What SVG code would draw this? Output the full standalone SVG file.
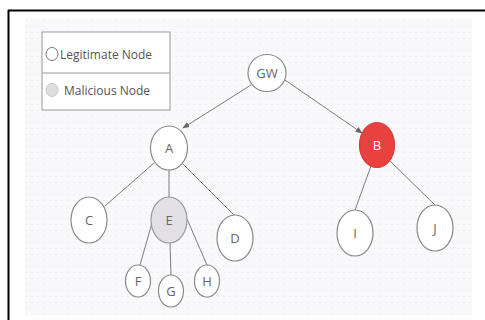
<svg xmlns="http://www.w3.org/2000/svg" width="485" height="320" viewBox="0 0 485 320">
  <defs>
    <pattern id="dots" width="6" height="6" patternUnits="userSpaceOnUse">
      <rect width="6" height="6" fill="#f9f9fc"/>
      <rect x="1" y="2" width="2" height="1" fill="#eeeef4"/>
    </pattern>
    <marker id="arrow" viewBox="0 0 10 10" refX="9" refY="5" markerWidth="7" markerHeight="7" orient="auto" markerUnits="userSpaceOnUse">
      <path d="M0,1 L10,5 L0,9 z" fill="#666"/>
    </marker>
  </defs>
  <style>
    .node { fill: #ffffff; stroke: #8a8a8a; stroke-width: 1.2; }
    .bad { fill: #e8413f; stroke: #d63a38; stroke-width: 1.2; }
    .sus { fill: #e2e0e4; stroke: #9a9a9a; stroke-width: 1.2; }
    .lbl { font-family: "Open Sans", "Liberation Sans", sans-serif; font-size: 13px; fill: #666; text-anchor: middle; dominant-baseline: central; }
    .lblw { fill: #ffffff; }
    .edge { stroke: #7d7d7d; stroke-width: 1; fill: none; }
    .leg { font-family: "Open Sans", "Liberation Sans", sans-serif; font-size: 12px; fill: #555; dominant-baseline: central; }
  </style>

  <rect width="485" height="320" fill="#ffffff"/>
  <!-- frame edges -->
  <line x1="8" y1="10.5" x2="485" y2="10.5" stroke="#000" stroke-width="2"/>
  <line x1="8.5" y1="10" x2="8.5" y2="320" stroke="#000" stroke-width="2"/>
  <!-- dotted canvas -->
  <rect x="25" y="18" width="447" height="297" fill="url(#dots)"/>

  <!-- legend -->
  <g id="legend">
    <rect x="42" y="32" width="128" height="78" fill="#ffffff" stroke="#999" stroke-width="1"/>
    <line x1="42" y1="73" x2="170" y2="73" stroke="#999" stroke-width="1"/>
    <ellipse cx="52" cy="54" rx="6" ry="6.5" fill="#ffffff" stroke="#777" stroke-width="1"/>
    <text class="leg" x="60" y="54">Legitimate Node</text>
    <ellipse cx="52" cy="90" rx="6" ry="6.5" fill="#dedde0" stroke="#c8c8c8" stroke-width="1"/>
    <text class="leg" x="64" y="90">Malicious Node</text>
  </g>

  <!-- connectors -->
  <g id="edges">
    <line class="edge" x1="251" y1="85" x2="183" y2="128" marker-end="url(#arrow)"/>
    <line class="edge" x1="285" y1="80" x2="362" y2="133" marker-end="url(#arrow)"/>
    <line class="edge" x1="154" y1="163" x2="105" y2="206"/>
    <line class="edge" x1="169" y1="170" x2="169" y2="197"/>
    <line class="edge" x1="182" y1="163" x2="234" y2="215"/>
    <line class="edge" x1="152" y1="223" x2="140" y2="265"/>
    <line class="edge" x1="170" y1="243" x2="171" y2="275"/>
    <line class="edge" x1="187" y1="219" x2="207" y2="265"/>
    <line class="edge" x1="371" y1="166" x2="355" y2="210"/>
    <line class="edge" x1="390" y1="161" x2="435" y2="205"/>
  </g>

  <!-- nodes -->
  <g id="GW"><ellipse class="node" cx="267" cy="73" rx="19" ry="18.5"/><text class="lbl" x="267" y="73">GW</text></g>
  <g id="A"><ellipse class="node" cx="169" cy="148" rx="18.5" ry="22"/><text class="lbl" x="169" y="148">A</text></g>
  <g id="B"><ellipse class="bad" cx="377" cy="145" rx="17.5" ry="22.5"/><text class="lbl lblw" x="377" y="145">B</text></g>
  <g id="C"><ellipse class="node" cx="89" cy="220" rx="18" ry="23"/><text class="lbl" x="89" y="220">C</text></g>
  <g id="E"><ellipse class="sus" cx="169" cy="220" rx="18" ry="23"/><text class="lbl" x="169" y="220">E</text></g>
  <g id="D"><ellipse class="node" cx="235" cy="238" rx="18" ry="23"/><text class="lbl" x="235" y="238">D</text></g>
  <g id="F"><ellipse class="node" cx="138" cy="281" rx="12.5" ry="16"/><text class="lbl" x="138" y="281">F</text></g>
  <g id="G"><ellipse class="node" cx="171" cy="291" rx="12.5" ry="16"/><text class="lbl" x="171" y="291">G</text></g>
  <g id="H"><ellipse class="node" cx="207" cy="281" rx="12.5" ry="16"/><text class="lbl" x="207" y="281">H</text></g>
  <g id="I"><ellipse class="node" cx="355" cy="233" rx="18" ry="23"/><text class="lbl" x="355" y="233">I</text></g>
  <g id="J"><ellipse class="node" cx="435" cy="228" rx="18" ry="23"/><text class="lbl" x="435" y="228">J</text></g>
</svg>
